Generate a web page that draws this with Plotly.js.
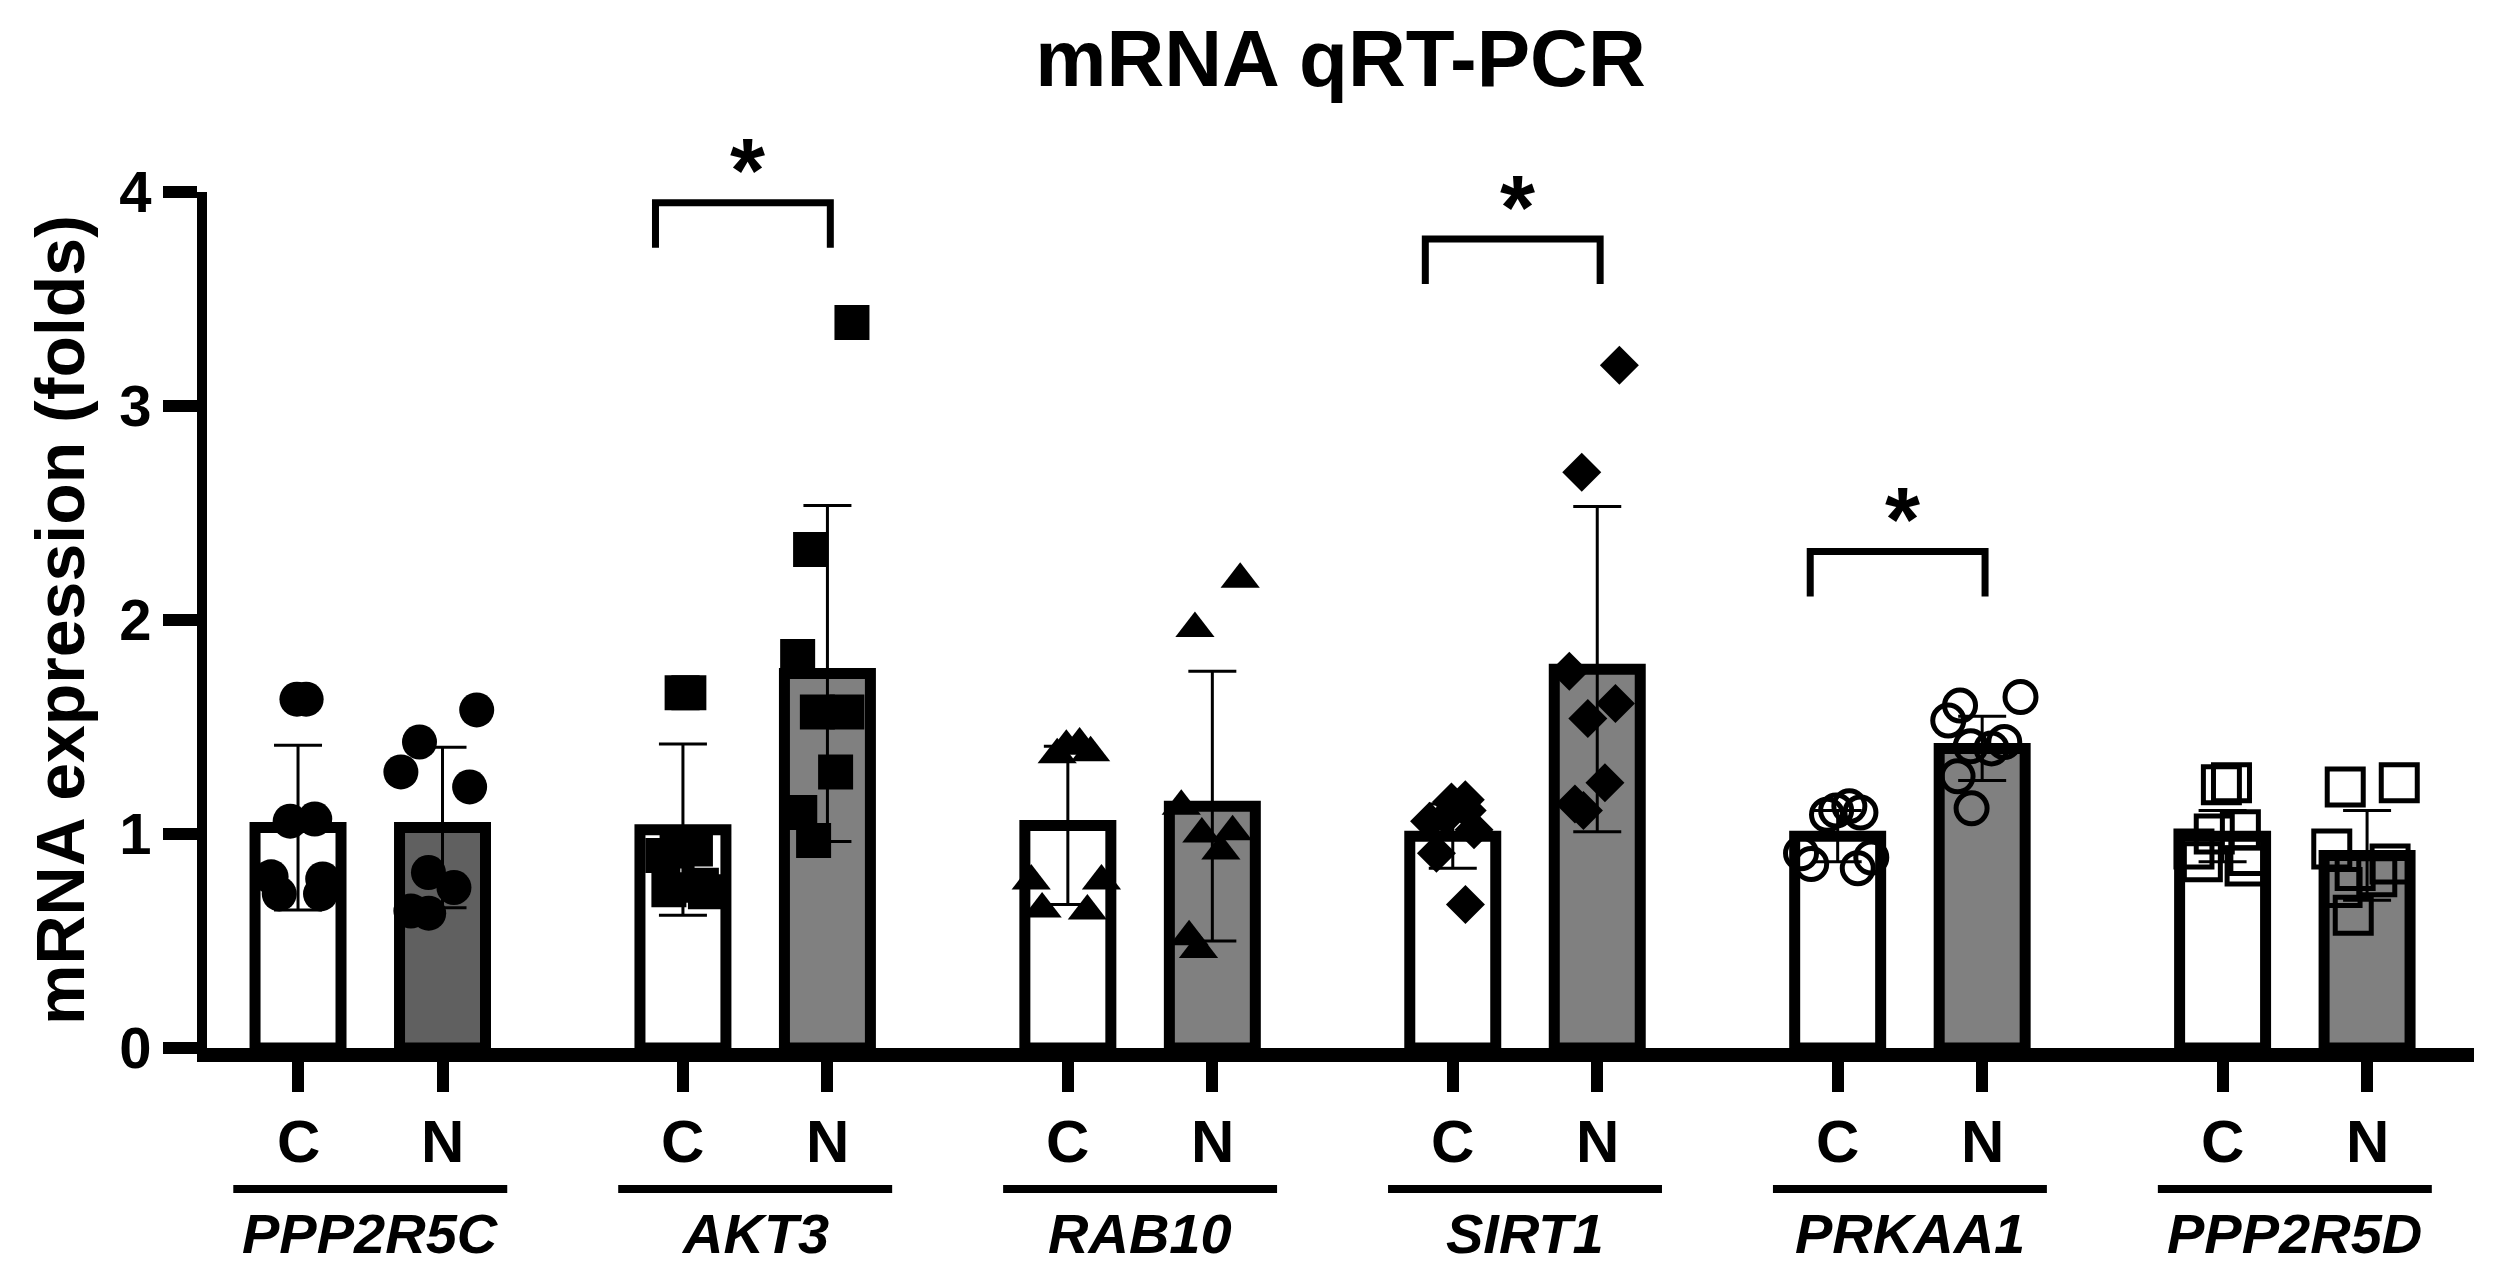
<!DOCTYPE html>
<html>
<head>
<meta charset="utf-8">
<script src="https://cdn.plot.ly/plotly-3.0.1.min.js"></script>
<style>
  body { margin: 0; background: #ffffff; }
  #plot1 { width: 2504px; height: 1280px; }
</style>
</head>
<body>
<div id="plot1"></div>
<script>
/////////////////////////////////////////////// data ///////////////////////////////////////////////////////
const genes = [ 'PPP2R5C', 'AKT3', 'RAB10', 'SIRT1', 'PRKAA1', 'PPP2R5D' ];
const groupNames = [ 'C', 'N' ];

// bar height (mean) and error bar (SD)
const meanC = [ 1.03, 1.02, 1.04, 0.99, 0.99, 0.99 ];
const sdC   = [ 0.385, 0.40, 0.37, 0.15, 0.12, 0.12 ];
const meanN = [ 1.03, 1.75, 1.13, 1.77, 1.40, 0.90 ];
const sdN   = [ 0.375, 0.785, 0.63, 0.76, 0.15, 0.21 ];

// single samples
const pointsC = [
  [ 1.63, 1.63, 1.07, 1.06, 0.79, 0.80, 0.72, 0.72 ],
  [ 1.66, 1.66, 0.93, 0.92, 0.90, 0.76, 0.74, 0.73 ],
  [ 1.42, 1.41, 1.38, 1.37, 0.78, 0.78, 0.65, 0.64 ],
  [ 1.16, 1.15, 1.11, 1.08, 1.06, 1.02, 0.91, 0.67 ],
  [ 1.13, 1.11, 1.10, 1.09, 0.91, 0.89, 0.86, 0.84 ],
  [ 1.24, 1.23, 1.02, 1.00, 0.93, 0.90, 0.87, 0.85 ],
];
const pointsN = [
  [ 1.58, 1.43, 1.29, 1.22, 0.82, 0.75, 0.63, 0.64 ],
  [ 3.39, 2.33, 1.83, 1.57, 1.57, 1.29, 1.10, 0.97 ],
  [ 2.19, 1.96, 1.13, 1.01, 1.00, 0.92, 0.52, 0.46 ],
  [ 3.19, 2.69, 1.76, 1.61, 1.54, 1.24, 1.14, 1.11 ],
  [ 1.64, 1.60, 1.53, 1.43, 1.41, 1.40, 1.27, 1.12 ],
  [ 1.24, 1.22, 0.93, 0.86, 0.83, 0.80, 0.75, 0.62 ],
];

// significant C vs N comparisons
const sigGenes = [ 'AKT3', 'SIRT1', 'PRKAA1' ];
const sigLabel = [ '*', '*', '*' ];

/////////////////////////////////////////////// styles ///////////////////////////////////////////////////////
const fontFam = 'Liberation Sans, Arial, Helvetica, sans-serif';
const groupStep = 2.664;   // distance between gene groups (x units, C to N = 1)
const xRange = [ -0.63, 15.06 ];
const yRange = [ 0, 4 ];
const bracketLevel = { AKT3: 3.95, SIRT1: 3.78, PRKAA1: 2.32 };
const nColor = [ '#606060', '#808080', '#808080', '#808080', '#808080', '#808080' ];
const markerStyle = [
  { symbol: 'circle', size: 35, color: '#000000', line: { width: 0 } },
  { symbol: 'square', size: 35, color: '#000000', line: { width: 0 } },
  { symbol: 'triangle-up', size: 34, color: '#000000', line: { width: 0 } },
  { symbol: 'diamond', size: 30, color: '#000000', line: { width: 0 } },
  { symbol: 'circle-open', size: 31, color: '#000000', line: { width: 5, color: '#000000' } },
  { symbol: 'square-open', size: 36, color: '#000000', line: { width: 5, color: '#000000' } },
];

function xPos(g, k) { return g * groupStep + k; }
function xPaper(x) { return (x - xRange[0]) / (xRange[1] - xRange[0]); }

/////////////////////////////////////////////// traces ///////////////////////////////////////////////////////
let barX = [], barY = [], barErr = [], barFill = [];
for (let g = 0; g < genes.length; g++) {
  barX.push(xPos(g, 0)); barY.push(meanC[g]); barErr.push(sdC[g]); barFill.push('#ffffff');
  barX.push(xPos(g, 1)); barY.push(meanN[g]); barErr.push(sdN[g]); barFill.push(nColor[g]);
}

let dataTemp = [{
  type: 'bar',
  x: barX,
  y: barY,
  width: 0.595,
  marker: { color: barFill, line: { color: '#000000', width: 11 } },
  error_y: { type: 'data', array: barErr, visible: true, color: '#000000', thickness: 3, width: 24 },
  showlegend: false,
  hoverinfo: 'skip',
}];

for (let g = 0; g < genes.length; g++) {
  let xs = [], ys = [];
  pointsC[g].forEach(v => { xs.push(xPos(g, 0)); ys.push(v); });
  pointsN[g].forEach(v => { xs.push(xPos(g, 1)); ys.push(v); });
  dataTemp.push({
    type: 'box',
    x: xs,
    y: ys,
    boxpoints: 'all',
    jitter: 1.0,
    pointpos: 0,
    width: 0.6,
    whiskerwidth: 0,
    fillcolor: 'rgba(0,0,0,0)',
    line: { color: 'rgba(0,0,0,0)', width: 0 },
    marker: markerStyle[g],
    showlegend: false,
    hoverinfo: 'y',
  });
}

/////////////////////////////////////////////// annotations + shapes ///////////////////////////////////////////////////////
let annos = [];
let shapesTemp = [];

annos.push({
  text: 'mRNA expression (folds)', textangle: -90,
  xref: 'paper', yref: 'paper', x: 0, y: 0.5, xshift: -147,
  xanchor: 'center', yanchor: 'middle', showarrow: false,
  font: { family: fontFam, size: 68, weight: 'bold', color: '#000000' },
});

for (let g = 0; g < genes.length; g++) {
  for (let k = 0; k < 2; k++) {
    annos.push({
      text: groupNames[k], xref: 'x', yref: 'paper', x: xPos(g, k), y: 0, yshift: -93,
      xanchor: 'center', yanchor: 'middle', showarrow: false,
      font: { family: fontFam, size: 60, weight: 'bold', color: '#000000' },
    });
  }
  const xc = xPos(g, 0.5);
  shapesTemp.push({
    type: 'line', xref: 'paper', yref: 'paper',
    x0: xPaper(xc - 0.948), x1: xPaper(xc + 0.948), y0: -0.1647, y1: -0.1647,
    line: { color: '#000000', width: 8 },
  });
  annos.push({
    text: '<i>' + genes[g] + '</i>', xref: 'x', yref: 'paper', x: xc, y: 0, yshift: -185,
    xanchor: 'center', yanchor: 'middle', showarrow: false,
    font: { family: fontFam, size: 56, weight: 'bold', color: '#000000' },
  });
}

// brackets with asterisks
for (let i = 0; i < sigGenes.length; i++) {
  const g = genes.indexOf(sigGenes[i]);
  const lv = bracketLevel[sigGenes[i]];
  const x0 = xPaper(xPos(g, 0) - 0.19);
  const x1 = xPaper(xPos(g, 1) + 0.02);
  const yTop = lv / yRange[1];
  const yLeg = (lv - 0.21) / yRange[1];
  shapesTemp.push({
    type: 'path', xref: 'paper', yref: 'paper',
    path: 'M' + x0 + ',' + yLeg + ' L' + x0 + ',' + yTop + ' L' + x1 + ',' + yTop + ' L' + x1 + ',' + yLeg,
    line: { color: '#000000', width: 7 },
  });
  annos.push({
    text: sigLabel[i], xref: 'x', yref: 'paper', x: xPos(g, 0.45), y: (lv + 0.25) / yRange[1], yshift: -22,
    xanchor: 'center', yanchor: 'middle', showarrow: false,
    font: { family: fontFam, size: 90, weight: 'bold', color: '#000000' },
  });
}

/////////////////////////////////////////////// layout ///////////////////////////////////////////////////////
let tickPos = [];
for (let g = 0; g < genes.length; g++) { tickPos.push(xPos(g, 0), xPos(g, 1)); }

const layoutBar = {
  width: 2504,
  height: 1280,
  paper_bgcolor: '#ffffff',
  plot_bgcolor: '#ffffff',
  margin: { l: 207, r: 30, t: 192, b: 232 },
  title: {
    text: '<b>mRNA qRT-PCR</b>',
    font: { family: fontFam, size: 80, color: '#000000' },
    x: 0.5, xref: 'paper', y: 1 - 58 / 1280, yref: 'container', yanchor: 'middle',
  },
  xaxis: {
    range: xRange,
    tickvals: tickPos,
    showticklabels: false,
    ticks: 'outside', ticklen: 30, tickwidth: 12, tickcolor: '#000000',
    showline: true, linewidth: 14, linecolor: '#000000',
    showgrid: false, zeroline: false, fixedrange: true,
  },
  yaxis: {
    range: yRange,
    tickvals: [ 0, 1, 2, 3, 4 ],
    ticks: 'outside', ticklen: 34, tickwidth: 12, tickcolor: '#000000',
    tickfont: { family: fontFam, size: 58, weight: 'bold', color: '#000000' },
    showline: true, linewidth: 10, linecolor: '#000000',
    showgrid: false, zeroline: false, fixedrange: true,
  },
  boxmode: 'overlay',
  annotations: annos,
  shapes: shapesTemp,
};

Plotly.newPlot('plot1', dataTemp, layoutBar, { displayModeBar: false, staticPlot: true });
</script>
</body>
</html>
